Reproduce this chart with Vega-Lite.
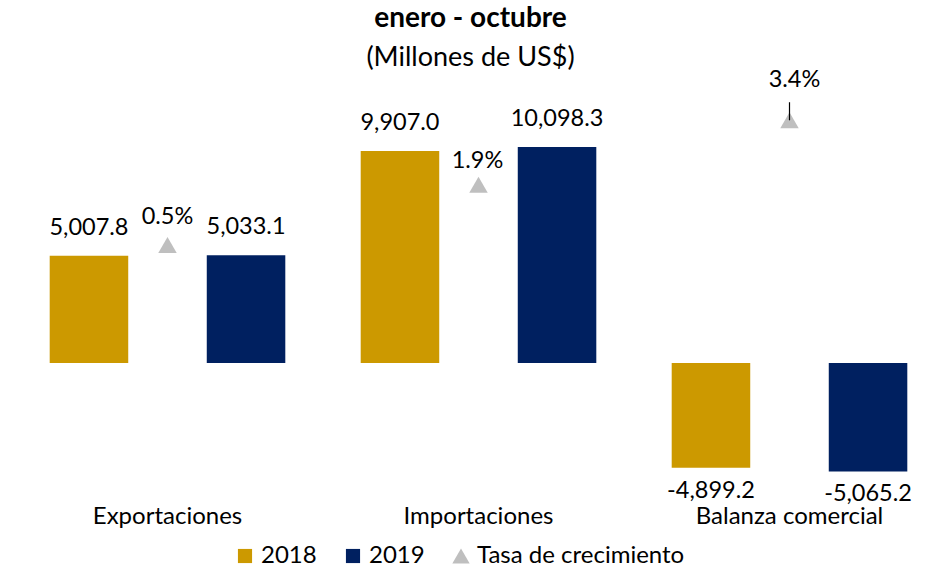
{
  "$schema": "https://vega.github.io/schema/vega-lite/v6.json",
  "width": 933,
  "height": 400,
  "autosize": {"type": "none"},
  "padding": {"left": 12, "top": 100, "right": 0, "bottom": 71},
  "config": {"view": {"stroke": null}, "font": "Lato", "text": {"font": "Lato"}},
  "title": {
    "text": "enero - octubre",
    "subtitle": "(Millones de US$)",
    "font": "Lato",
    "subtitleFont": "Lato",
    "fontSize": 28,
    "fontWeight": "bold",
    "subtitleFontSize": 27,
    "color": "#000000",
    "subtitleColor": "#000000",
    "offset": -3,
    "subtitlePadding": 12,
    "anchor": "middle",
    "dx": -8
  },
  "datasets": {
    "barras": [
      {"categoria": "Exportaciones", "serie": "2018", "valor": 5007.8},
      {"categoria": "Exportaciones", "serie": "2019", "valor": 5033.1},
      {"categoria": "Importaciones", "serie": "2018", "valor": 9907.0},
      {"categoria": "Importaciones", "serie": "2019", "valor": 10098.3},
      {"categoria": "Balanza comercial", "serie": "2018", "valor": -4899.2},
      {"categoria": "Balanza comercial", "serie": "2019", "valor": -5065.2}
    ],
    "tasas": [
      {"categoria": "Exportaciones", "serie": "Tasa de crecimiento", "tasa": 0.5},
      {"categoria": "Importaciones", "serie": "Tasa de crecimiento", "tasa": 1.9},
      {"categoria": "Balanza comercial", "serie": "Tasa de crecimiento", "tasa": 3.4}
    ]
  },
  "encoding": {
    "x": {
      "field": "categoria",
      "type": "nominal",
      "sort": ["Exportaciones", "Importaciones", "Balanza comercial"],
      "scale": {"paddingInner": 0, "paddingOuter": 0},
      "axis": {
        "title": null,
        "domain": false,
        "ticks": false,
        "labelAngle": 0,
        "labelFontSize": 24,
        "labelFont": "Lato",
        "labelColor": "#000000",
        "labelPadding": 4,
        "labelLimit": 400
      }
    },
    "color": {
      "field": "serie",
      "type": "nominal",
      "scale": {
        "domain": ["2018", "2019", "Tasa de crecimiento"],
        "range": ["#CC9900", "#002060", "#BFBFBF"]
      },
      "legend": {
        "title": null,
        "orient": "none",
        "legendX": 221,
        "legendY": 444,
        "direction": "horizontal",
        "labelFontSize": 24,
        "labelFont": "Lato",
        "labelColor": "#000000",
        "labelLimit": 400,
        "symbolSize": 200,
        "symbolStrokeWidth": 0,
        "symbolOpacity": 1,
        "columnPadding": 24,
        "labelOffset": 4,
        "encode": {
          "symbols": {
            "update": {
              "shape": {"signal": "datum.value === 'Tasa de crecimiento' ? 'triangle-up' : 'square'"},
              "size": {"signal": "datum.value === 'Tasa de crecimiento' ? 300 : 200"}
            }
          }
        }
      }
    }
  },
  "layer": [
    {
      "data": {"name": "barras"},
      "encoding": {
        "y": {
          "field": "valor",
          "type": "quantitative",
          "scale": {"domain": [-6402, 12290], "nice": false, "zero": false},
          "axis": null
        },
        "xOffset": {
          "field": "serie",
          "type": "nominal",
          "scale": {"domain": ["2018", "2019"], "paddingInner": 0.5, "paddingOuter": 0.24}
        }
      },
      "layer": [
        {"mark": {"type": "bar"}},
        {
          "transform": [
            {"filter": "datum.valor > 0"},
            {"calculate": "replace(format(datum.valor, ',.1f'), '\u2212', '-')", "as": "etiqueta"}
          ],
          "mark": {"type": "text", "fontSize": 23.5, "baseline": "middle", "dy": -28, "color": "#000000"},
          "encoding": {"text": {"field": "etiqueta"}, "color": {"value": "#000000"}}
        },
        {
          "transform": [
            {"filter": "datum.valor < 0"},
            {"calculate": "replace(format(datum.valor, ',.1f'), '\u2212', '-')", "as": "etiqueta"}
          ],
          "mark": {"type": "text", "fontSize": 23.5, "baseline": "middle", "dy": 23, "color": "#000000"},
          "encoding": {"text": {"field": "etiqueta"}, "color": {"value": "#000000"}}
        },
        {
          "data": {"values": [{}]},
          "mark": {"type": "rule", "color": "#A6A6A6", "strokeWidth": 1.5},
          "encoding": {"y": {"datum": 0, "type": "quantitative"}, "x": null, "xOffset": null, "color": null}
        }
      ]
    },
    {
      "data": {"name": "tasas"},
      "encoding": {
        "y": {
          "field": "tasa",
          "type": "quantitative",
          "scale": {"domain": [-5.43, 3.872], "nice": false, "zero": false},
          "axis": null
        }
      },
      "layer": [
        {"mark": {"type": "point", "shape": "triangle-up", "filled": true, "size": 340, "opacity": 1}},
        {
          "transform": [
            {"filter": "datum.categoria === 'Balanza comercial'"}
          ],
          "mark": {"type": "rule", "color": "#000000", "strokeWidth": 1.2},
          "encoding": {
            "y": {"datum": 3.4, "type": "quantitative"},
            "y2": {"datum": 3.82},
            "color": null
          }
        },
        {
          "transform": [
            {"filter": "datum.categoria === 'Exportaciones'"},
            {"calculate": "format(datum.tasa, '.1f') + '%'", "as": "etiqueta"}
          ],
          "mark": {"type": "text", "fontSize": 23.5, "baseline": "middle", "dy": -28},
          "encoding": {"text": {"field": "etiqueta"}, "color": {"value": "#000000"}}
        },
        {
          "transform": [
            {"filter": "datum.categoria === 'Importaciones'"},
            {"calculate": "format(datum.tasa, '.1f') + '%'", "as": "etiqueta"}
          ],
          "mark": {"type": "text", "fontSize": 23.5, "baseline": "middle", "dy": -24, "dx": -1},
          "encoding": {"text": {"field": "etiqueta"}, "color": {"value": "#000000"}}
        },
        {
          "transform": [
            {"filter": "datum.categoria === 'Balanza comercial'"},
            {"calculate": "format(datum.tasa, '.1f') + '%'", "as": "etiqueta"}
          ],
          "mark": {"type": "text", "fontSize": 23.5, "baseline": "middle", "dy": -40, "dx": 5},
          "encoding": {"text": {"field": "etiqueta"}, "color": {"value": "#000000"}}
        }
      ]
    }
  ],
  "resolve": {"scale": {"y": "independent"}}
}
